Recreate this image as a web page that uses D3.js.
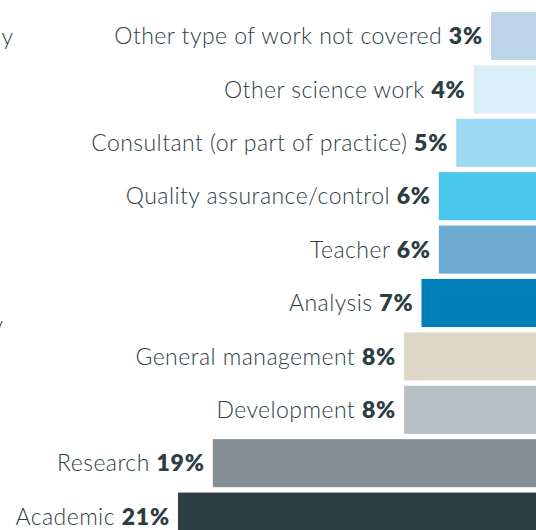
<!DOCTYPE html>
<html>
<head>
<meta charset="utf-8">
<script src="https://cdn.jsdelivr.net/npm/d3@7"></script>
<style>
  body { margin: 0; background: #fff; }
  svg { display: block; font-family: Lato, "Open Sans", sans-serif; }
</style>
</head>
<body>
<svg id="chart" width="536" height="530"></svg>
<script>
// categories, top to bottom
const categories = [
  "Other type of work not covered",
  "Other science work",
  "Consultant (or part of practice)",
  "Quality assurance/control",
  "Teacher",
  "Analysis",
  "General management",
  "Development",
  "Research",
  "Academic"
];
const shares = [3, 4, 5, 6, 6, 7, 8, 8, 19, 21];
const barColors = [
  "#bed5ea", "#daeef8", "#9bd9f2", "#48c6ec", "#6dabd2",
  "#0080b8", "#dfd8c9", "#b7c0c3", "#838f94", "#2c3f44"
];
// bits of the neighbouring panel's labels that show at the left edge
const leftFragments = ["y", "y"];

const svg = d3.select("#chart");
const textColor = "#2d3e43";

const x = d3.scaleLinear().domain([0, 21]).range([543.2, 178]);
const y = d3.scaleBand()
  .domain(categories)
  .range([12, 540.6])
  .paddingInner(0.1)
  .paddingOuter(0);

const rows = categories.map((c, i) => ({ cat: c, v: shares[i], color: barColors[i] }));

svg.append("g")
  .selectAll("rect")
  .data(rows)
  .enter()
  .append("rect")
  .attr("x", (d) => x(d.v))
  .attr("y", (d) => y(d.cat))
  .attr("width", (d) => x(0) - x(d.v))
  .attr("height", y.bandwidth())
  .attr("fill", (d) => d.color);

const labels = svg.append("g")
  .selectAll("text")
  .data(rows)
  .enter()
  .append("text")
  .attr("x", (d) => x(d.v) - 8)
  .attr("y", (d) => y(d.cat) + y.bandwidth() / 2)
  .attr("dy", "0.36em")
  .attr("text-anchor", "end")
  .attr("font-size", 23)
  .attr("fill", textColor);

labels.append("tspan")
  .attr("font-weight", 300)
  .attr("letter-spacing", "0.45px")
  .text((d) => d.cat + " ");
labels.append("tspan")
  .attr("font-weight", 800)
  .attr("letter-spacing", "0.8px")
  .text((d) => d.v + "%");

// clipped fragments from the panel to the left
svg.append("text")
  .attr("x", 13)
  .attr("y", 45)
  .attr("text-anchor", "end")
  .attr("font-size", 23)
  .attr("font-weight", 300)
  .attr("fill", textColor)
  .text(leftFragments[0]);
svg.append("text")
  .attr("x", 3)
  .attr("y", 333)
  .attr("text-anchor", "end")
  .attr("font-size", 23)
  .attr("font-weight", 300)
  .attr("fill", textColor)
  .text(leftFragments[1]);
</script>
</body>
</html>
